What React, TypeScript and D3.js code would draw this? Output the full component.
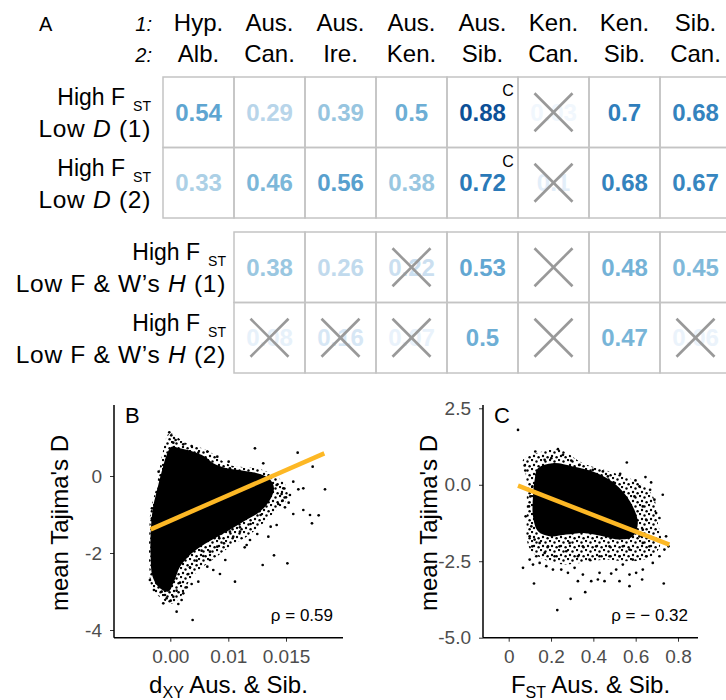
import React, { useEffect, useRef } from 'react';
import * as d3 from 'd3';

// ---- Panel A: table ----
const popTop = ['Hyp.', 'Aus.', 'Aus.', 'Aus.', 'Aus.', 'Ken.', 'Ken.', 'Sib.'];
const popBottom = ['Alb.', 'Can.', 'Ire.', 'Ken.', 'Sib.', 'Can.', 'Sib.', 'Can.'];

const rowD1 = [0.54, 0.29, 0.39, 0.5, 0.88, 0.03, 0.7, 0.68];
const rowD2 = [0.33, 0.46, 0.56, 0.38, 0.72, 0.1, 0.68, 0.67];
const rowH1 = [null, 0.38, 0.26, 0.22, 0.53, null, 0.48, 0.45];
const rowH2 = [null, 0.08, 0.16, 0.07, 0.5, null, 0.47, 0.06];

// columns struck out with a cross
const crossD1 = [5];
const crossD2 = [5];
const crossH1 = [3, 5];
const crossH2 = [1, 2, 3, 5, 7];

// columns flagged with a superscript "C"
const flagD1 = [4];
const flagD2 = [4];

// ---- Panel B: mean Tajima's D vs dXY ----
// solid (over-plotted) part of the cloud
const coreB: [number, number][] = [
  [-0.00305, -0.883], [-0.00339, -1.489], [-0.00339, -2.095], [-0.00305, -2.615],
  [-0.00178, -2.918], [-0.00034, -3.004], [0.00063, -2.745], [0.00167, -2.355],
  [0.0031, -2.095], [0.00483, -1.879], [0.00713, -1.662], [0.00971, -1.446],
  [0.0113, -1.186], [0.01274, -0.926], [0.01361, -0.623], [0.01396, -0.32],
  [0.01361, -0.087], [0.01274, 0.052], [0.0113, 0.139], [0.00971, 0.199],
  [0.00741, 0.329], [0.00598, 0.502], [0.00397, 0.632], [0.00167, 0.719],
  [0.00023, 0.762], [-0.00063, 0.545], [-0.00132, 0.199], [-0.00207, -0.234],
  [-0.00264, -0.58],
];
// outer envelope of the speckled part
const haloB: [number, number][] = [
  [-0.00017, 1.108], [0.00282, 0.848], [0.00626, 0.675], [0.01014, 0.286], [0.01245, 0.199],
  [0.01419, -0.017], [0.01505, -0.277], [0.01505, -0.623], [0.01419, -0.883], [0.01303, -1.229],
  [0.01159, -1.576], [0.01014, -1.835], [0.00799, -2.095], [0.00569, -2.355], [0.00339, -2.701],
  [0.00224, -3.048], [0.00052, -3.307], [-0.00121, -3.221], [-0.00322, -2.874], [-0.00362, -2.355],
  [-0.00362, -1.489], [-0.00339, -0.883], [-0.00236, -0.277], [-0.00178, 0.242], [-0.00121, 0.675],
];
const pointsB: [number, number][] = [
  [-0.00017, 1.134], [0.00017, 1.056], [0.00052, 0.866], [0.00092, 0.935], [0.00224, 0.823],
  [0.00368, 0.779], [0.00483, 0.606], [0.00638, 0.632], [0.0081, 0.502], [0.01003, 0.372],
  [0.01231, 0.719], [0.01303, 0.329], [0.01601, 0.606], [0.01731, 0.242], [0.01838, -0.346],
  [0.0165, -0.32], [0.01607, -0.346], [0.01563, -0.147], [0.01534, -0.494], [0.015, -0.554],
  [0.01471, -0.641], [0.01523, -0.693], [0.01491, -0.814], [0.01563, -0.987], [0.0165, -0.883],
  [0.01708, -1.013], [0.01783, -1.022], [0.01725, -1.229], [0.01419, -1.273], [0.01367, -1.316],
  [0.01347, -1.576], [0.01251, -1.506], [0.01188, -1.662], [0.01159, -1.792], [0.01142, -1.853],
  [0.01396, -2.061], [0.01298, -2.312], [0.01512, -2.268], [0.01058, -2.745], [0.00925, -1.749],
  [0.00948, -2.182], [0.00741, -2.442], [0.00856, -2.545], [0.00684, -2.182], [0.00569, -2.078],
  [0.00638, -2.355], [0.00483, -2.745], [0.00368, -2.805], [0.00224, -3.048], [0.00195, -3.221],
  [0.00109, -3.524], [0.00385, -3.74], [0.00052, -3.134], [-0.00063, -3.177], [-0.00149, -3.004],
  [-0.00282, -2.961], [-0.00351, -2.701], [-0.00316, -0.84], [-0.00316, -1.1], [-0.00224, -0.623],
  [-0.00178, -0.104], [-0.00201, 0.113], [-0.00121, 0.286], [-0.00063, 0.416], [0.0031, 0.416],
  [0.00443, 0.485], [0.00523, 0.346], [0.01014, 0.199], [0.01078, 0.087], [0.01188, 0.026],
  [0.01419, -0.234], [0.01477, -0.32], [0.01462, -0.468], [0.01433, -0.727], [0.0128, -1.013],
  [0.01193, -1.247], [0.01101, -1.333], [0.01043, -1.576], [0.01014, -1.446], [0.0081, -1.835],
  [0.00684, -1.965], [0.0054, -1.939], [0.00454, -2.199], [0.00339, -2.372], [0.0031, -2.545],
  [0.00167, -2.771], [0.00282, -2.892], [0.00109, -2.978], [0.00006, -3.238], [-0.00092, -3.091],
  [0.00138, -3.325], [-0.00121, -3.307], [-0.00236, -2.788], [-0.00264, -2.528], [0.01014, -0.017],
  [0.00856, -0.147], [0.01101, -1.446], [0.00845, -1.619],
];
const fitB: [number, number][] = [[-0.00339, -1.385], [0.01832, 0.589]];

// ---- Panel C: mean Tajima's D vs FST ----
const coreC: [number, number][] = [
  [0.1384, 0.543], [0.2091, 0.707], [0.3035, 0.598], [0.3978, 0.435], [0.4764, 0.163],
  [0.5393, -0.217], [0.5865, -0.707], [0.6101, -1.25], [0.5865, -1.685], [0.5236, -1.793],
  [0.445, -1.685], [0.3506, -1.576], [0.272, -1.63], [0.1934, -1.685], [0.1384, -1.522],
  [0.1148, -1.033], [0.1148, -0.38], [0.1226, 0.163],
];
const haloC: [number, number][] = [
  [0.0676, 0.815], [0.1305, 1.033], [0.2406, 1.141], [0.3506, 0.707], [0.4764, 0.435],
  [0.5865, 0.163], [0.65, -0.1], [0.69, -0.5], [0.7, -1.1], [0.72, -1.8],
  [0.7, -2.2], [0.64, -2.45], [0.55, -2.5], [0.45, -2.45], [0.35, -2.55],
  [0.25, -2.6], [0.17, -2.45], [0.11, -2.2], [0.085, -1.8], [0.085, -1.033],
  [0.085, -0.272], [0.08, 0.38],
];
const pointsC: [number, number][] = [
  [0.044, 1.793], [0.1258, 1.087], [0.0755, 0.63], [0.0786, 0.467], [0.2327, 1.163],
  [0.2563, 0.978], [0.2956, 0.793], [0.3349, 0.652], [0.3978, 0.489], [0.445, 0.435],
  [0.4686, 0.272], [0.4953, 0.076], [0.5582, 0.728], [0.5267, 0.359], [0.5991, 0.141],
  [0.6179, -0.054], [0.6462, 0.25], [0.673, 0.076], [0.6682, -0.163], [0.6887, -0.489],
  [0.728, -0.326], [0.6965, -0.924], [0.7123, -1.087], [0.7437, -1.685], [0.7547, -2.011],
  [0.7358, -2.12], [0.7123, -2.337], [0.6808, -2.554], [0.6336, -2.772], [0.6022, -2.88],
  [0.5708, -2.935], [0.6305, -3.098], [0.7327, -3.228], [0.5708, -3.315], [0.5236, -3.152],
  [0.4843, -2.902], [0.4528, -3.152], [0.4214, -3.098], [0.3899, -3.152], [0.3506, -2.935],
  [0.327, -3.152], [0.3113, -2.717], [0.2799, -2.88], [0.2484, -2.772], [0.2091, -2.772],
  [0.1777, -2.663], [0.1462, -2.554], [0.1148, -2.609], [0.0991, -2.446], [0.0676, -2.717],
  [0.1195, -3.228], [0.2296, -4.098], [0.2925, -3.728], [0.3616, -3.511], [0.4292, -2.88],
  [0.5079, -2.772], [0.5393, -2.609], [0.5865, -2.446], [0.6494, -2.337], [0.6651, -2.011],
  [0.6336, -1.902], [0.6179, -1.685], [0.1226, -1.793], [0.1116, -2.011], [0.0991, -1.685],
  [0.1069, -1.359], [0.0802, -1.033], [0.0959, -0.707], [0.1022, -0.38], [0.1116, -0.054],
  [0.1305, 0.326], [0.1698, 0.815], [0.2013, 0.87], [0.5393, -0.489], [0.5943, -0.38],
  [0.6336, -0.707], [0.6494, -1.141], [0.6336, -1.467], [0.6572, -1.685], [0.1305, -2.337],
  [0.1698, -2.228], [0.217, -2.337], [0.272, -2.174], [0.327, -2.337], [0.3821, -2.446],
  [0.4292, -2.337], [0.4764, -2.337], [0.5236, -2.337], [0.5708, -2.12], [0.2877, -1.902],
  [0.3506, -2.011], [0.4135, -2.011], [0.4764, -2.011], [0.5393, -2.011], [0.2406, -2.011],
  [0.1855, -2.011], [0.1462, -1.902],
];
const fitC: [number, number][] = [[0.044, -0.03], [0.759, -1.96]];

const ticksBx = [0, 0.01, 0.015];
const labelsBx = ['0.00', '0.01', '0.015'];
const ticksBy = [-4, -2, 0];
const ticksCx = [0, 0.2, 0.4, 0.6, 0.8];
const labelsCx = ['0', '0.2', '0.4', '0.6', '0.8'];
const ticksCy = [-5, -2.5, 0, 2.5];

const FONT = '"Liberation Sans", Arial, Helvetica, sans-serif';

export default function App() {
  const ref = useRef<SVGSVGElement>(null);

  useEffect(() => {
    if (!ref.current) return;
    const svg = d3.select(ref.current);
    svg.selectAll('*').remove();

    // speckle texture for the moderately dense part of the clouds
    const pat = svg.append('defs').append('pattern').attr('id', 'speckle')
      .attr('patternUnits', 'userSpaceOnUse').attr('width', 9).attr('height', 9);
    [[1, 1], [5.5, 2.5], [3, 6], [7.6, 7.2]].forEach(([cx, cy]) =>
      pat.append('circle').attr('cx', cx).attr('cy', cy).attr('r', 1.2).attr('fill', '#000'));

    // ---------- table ----------
    const xCol = d3.scaleBand<number>().domain(d3.range(popTop.length)).range([163, 163 + 71 * 8]);
    const color = (v: number) => d3.interpolateBlues(v);

    svg.append('text').attr('x', 39).attr('y', 31).attr('font-size', 20).text('A');
    svg.append('text').attr('x', 152).attr('y', 31).attr('font-size', 20)
      .attr('font-style', 'italic').attr('text-anchor', 'end').text('1:');
    svg.append('text').attr('x', 152).attr('y', 62).attr('font-size', 20)
      .attr('font-style', 'italic').attr('text-anchor', 'end').text('2:');

    popTop.forEach((p, i) => {
      const cx = xCol(i)! + xCol.bandwidth() / 2;
      svg.append('text').attr('x', cx).attr('y', 31).attr('font-size', 24)
        .attr('text-anchor', 'middle').text(p);
      svg.append('text').attr('x', cx).attr('y', 62).attr('font-size', 24)
        .attr('text-anchor', 'middle').text(popBottom[i]);
    });

    const blocks = [
      { y0: 77, rows: [rowD1, rowD2], crosses: [crossD1, crossD2], flags: [flagD1, flagD2],
        stat: 'D', pre: 'Low ', labelX: 151, firstCol: 0 },
      { y0: 232, rows: [rowH1, rowH2], crosses: [crossH1, crossH2], flags: [[], []],
        stat: 'H', pre: 'Low F & W\u2019s ', labelX: 226, firstCol: 1 },
    ];
    const rowH = 70.5;

    blocks.forEach(b => {
      const yRow = d3.scaleBand<number>().domain([0, 1]).range([b.y0, b.y0 + rowH * 2]);
      b.rows.forEach((row, r) => {
        const top = yRow(r)!;
        const cy = top + rowH / 2;
        row.forEach((v, c) => {
          if (c < b.firstCol) return;
          svg.append('rect').attr('x', xCol(c)!).attr('y', top)
            .attr('width', xCol.bandwidth()).attr('height', rowH)
            .attr('fill', 'none').attr('stroke', '#c4c4c4').attr('stroke-width', 1.5);
        });
        row.forEach((v, c) => {
          const cx = xCol(c)! + xCol.bandwidth() / 2;
          if (v !== null) {
            svg.append('text').attr('x', cx).attr('y', cy + 8.5)
              .attr('text-anchor', 'middle').attr('font-size', 24).attr('font-weight', 'bold')
              .attr('fill', color(v)).text(String(v));
          }
          if (b.crosses[r].includes(c)) {
            const s = 19;
            const g = svg.append('g').attr('stroke', '#999').attr('stroke-width', 2.6);
            g.append('line').attr('x1', cx - s).attr('y1', cy - s).attr('x2', cx + s).attr('y2', cy + s);
            g.append('line').attr('x1', cx - s).attr('y1', cy + s).attr('x2', cx + s).attr('y2', cy - s);
          }
          if (b.flags[r].includes(c)) {
            svg.append('text').attr('x', xCol(c)! + xCol.bandwidth() - 10).attr('y', top + 19)
              .attr('text-anchor', 'middle').attr('font-size', 16).text('C');
          }
        });
        // row label, two lines
        const l1 = svg.append('text').attr('x', b.labelX).attr('y', cy - 7)
          .attr('text-anchor', 'end').attr('font-size', 23);
        l1.append('tspan').text('High F');
        l1.append('tspan').attr('dx', 8).attr('dy', 6).attr('font-size', 14).text('ST');
        const l2 = svg.append('text').attr('x', b.labelX).attr('y', cy + 25)
          .attr('text-anchor', 'end').attr('font-size', 24.5).attr('letter-spacing', 0.7);
        l2.append('tspan').text(b.pre);
        l2.append('tspan').attr('font-style', 'italic').text(b.stat);
        l2.append('tspan').text(` (${r + 1})`);
      });
    });

    // ---------- scatter panels ----------
    const panel = (opt: {
      left: number; right: number; top: number; bottom: number;
      x: d3.ScaleLinear<number, number>; y: d3.ScaleLinear<number, number>;
      xTicks: number[]; xLabels: string[]; yTicks: number[]; yFmt: (v: number) => string;
      core: [number, number][]; halo: [number, number][]; pts: [number, number][]; fit: [number, number][];
      tag: string; rho: string; xSub: string; xMain: string; xPre: string;
    }) => {
      const g = svg.append('g');
      const { x, y } = opt;
      const area = d3.line<[number, number]>().x(d => x(d[0])).y(d => y(d[1])).curve(d3.curveCatmullRomClosed);

      g.append('path').datum(opt.halo).attr('d', area).attr('fill', 'url(#speckle)');
      g.append('path').datum(opt.core).attr('d', area).attr('fill', '#000');
      g.selectAll('circle.pt').data(opt.pts).join('circle')
        .attr('cx', d => x(d[0])).attr('cy', d => y(d[1])).attr('r', 1.35).attr('fill', '#000');
      g.append('path').datum(opt.fit)
        .attr('d', d3.line<[number, number]>().x(d => x(d[0])).y(d => y(d[1])))
        .attr('stroke', '#FDB825').attr('stroke-width', 4.5).attr('fill', 'none');

      const ax = g.append('g').attr('transform', `translate(0,${opt.bottom})`)
        .call(d3.axisBottom(x).tickValues(opt.xTicks).tickSize(4).tickPadding(8)
          .tickFormat((_, i) => opt.xLabels[i]));
      const ay = g.append('g').attr('transform', `translate(${opt.left},0)`)
        .call(d3.axisLeft(y).tickValues(opt.yTicks).tickSize(4).tickPadding(8).tickFormat(d => opt.yFmt(+d)));
      [ax, ay].forEach(a => {
        a.select('.domain').remove();
        a.selectAll('text').attr('font-size', 19).attr('fill', '#4d4d4d').attr('font-family', FONT);
        a.selectAll('line').attr('stroke', '#333');
      });
      g.append('line').attr('x1', opt.left).attr('x2', opt.left).attr('y1', opt.top).attr('y2', opt.bottom)
        .attr('stroke', '#000').attr('stroke-width', 1.5);
      g.append('line').attr('x1', opt.left).attr('x2', opt.right).attr('y1', opt.bottom).attr('y2', opt.bottom)
        .attr('stroke', '#000').attr('stroke-width', 1.5);

      g.append('text').attr('x', opt.left + 11).attr('y', 423).attr('font-size', 22).text(opt.tag);
      g.append('text').attr('x', opt.right - 10).attr('y', 621).attr('text-anchor', 'end')
        .attr('font-size', 17).text(opt.rho);

      g.append('text').attr('transform', `translate(${opt.left - 46},523) rotate(-90)`)
        .attr('text-anchor', 'middle').attr('font-size', 24).text('mean Tajima\'s D');

      const xt = g.append('text').attr('x', (opt.left + opt.right) / 2).attr('y', 693)
        .attr('text-anchor', 'middle').attr('font-size', 24);
      xt.append('tspan').text(opt.xPre);
      xt.append('tspan').attr('font-size', 16).attr('dy', 5).text(opt.xSub);
      xt.append('tspan').attr('dy', -5).text(opt.xMain);
    };

    panel({
      left: 114, right: 343, top: 405, bottom: 637.7,
      x: d3.scaleLinear().domain([0, 0.01, 0.015]).range([170.3, 228.3, 286]),
      y: d3.scaleLinear().domain([-4, 0]).range([630, 476]),
      xTicks: ticksBx, xLabels: labelsBx, yTicks: ticksBy, yFmt: v => String(v),
      core: coreB, halo: haloB, pts: pointsB, fit: fitB, tag: 'B', rho: '\u03c1 = 0.59',
      xPre: 'd', xSub: 'XY', xMain: ' Aus. & Sib.',
    });
    panel({
      left: 483, right: 698, top: 405, bottom: 637.7,
      x: d3.scaleLinear().domain([0, 0.8]).range([508.7, 678]),
      y: d3.scaleLinear().domain([-5, 2.5]).range([637.7, 408.3]),
      xTicks: ticksCx, xLabels: labelsCx, yTicks: ticksCy, yFmt: v => v.toFixed(1),
      core: coreC, halo: haloC, pts: pointsC, fit: fitC, tag: 'C', rho: '\u03c1 = \u2212 0.32',
      xPre: 'F', xSub: 'ST', xMain: ' Aus. & Sib.',
    });
  }, []);

  return (
    <svg ref={ref} width={726} height={700} fontFamily={FONT}
      style={{ position: 'absolute', left: 0, top: 0, background: '#fff' }} />
  );
}
